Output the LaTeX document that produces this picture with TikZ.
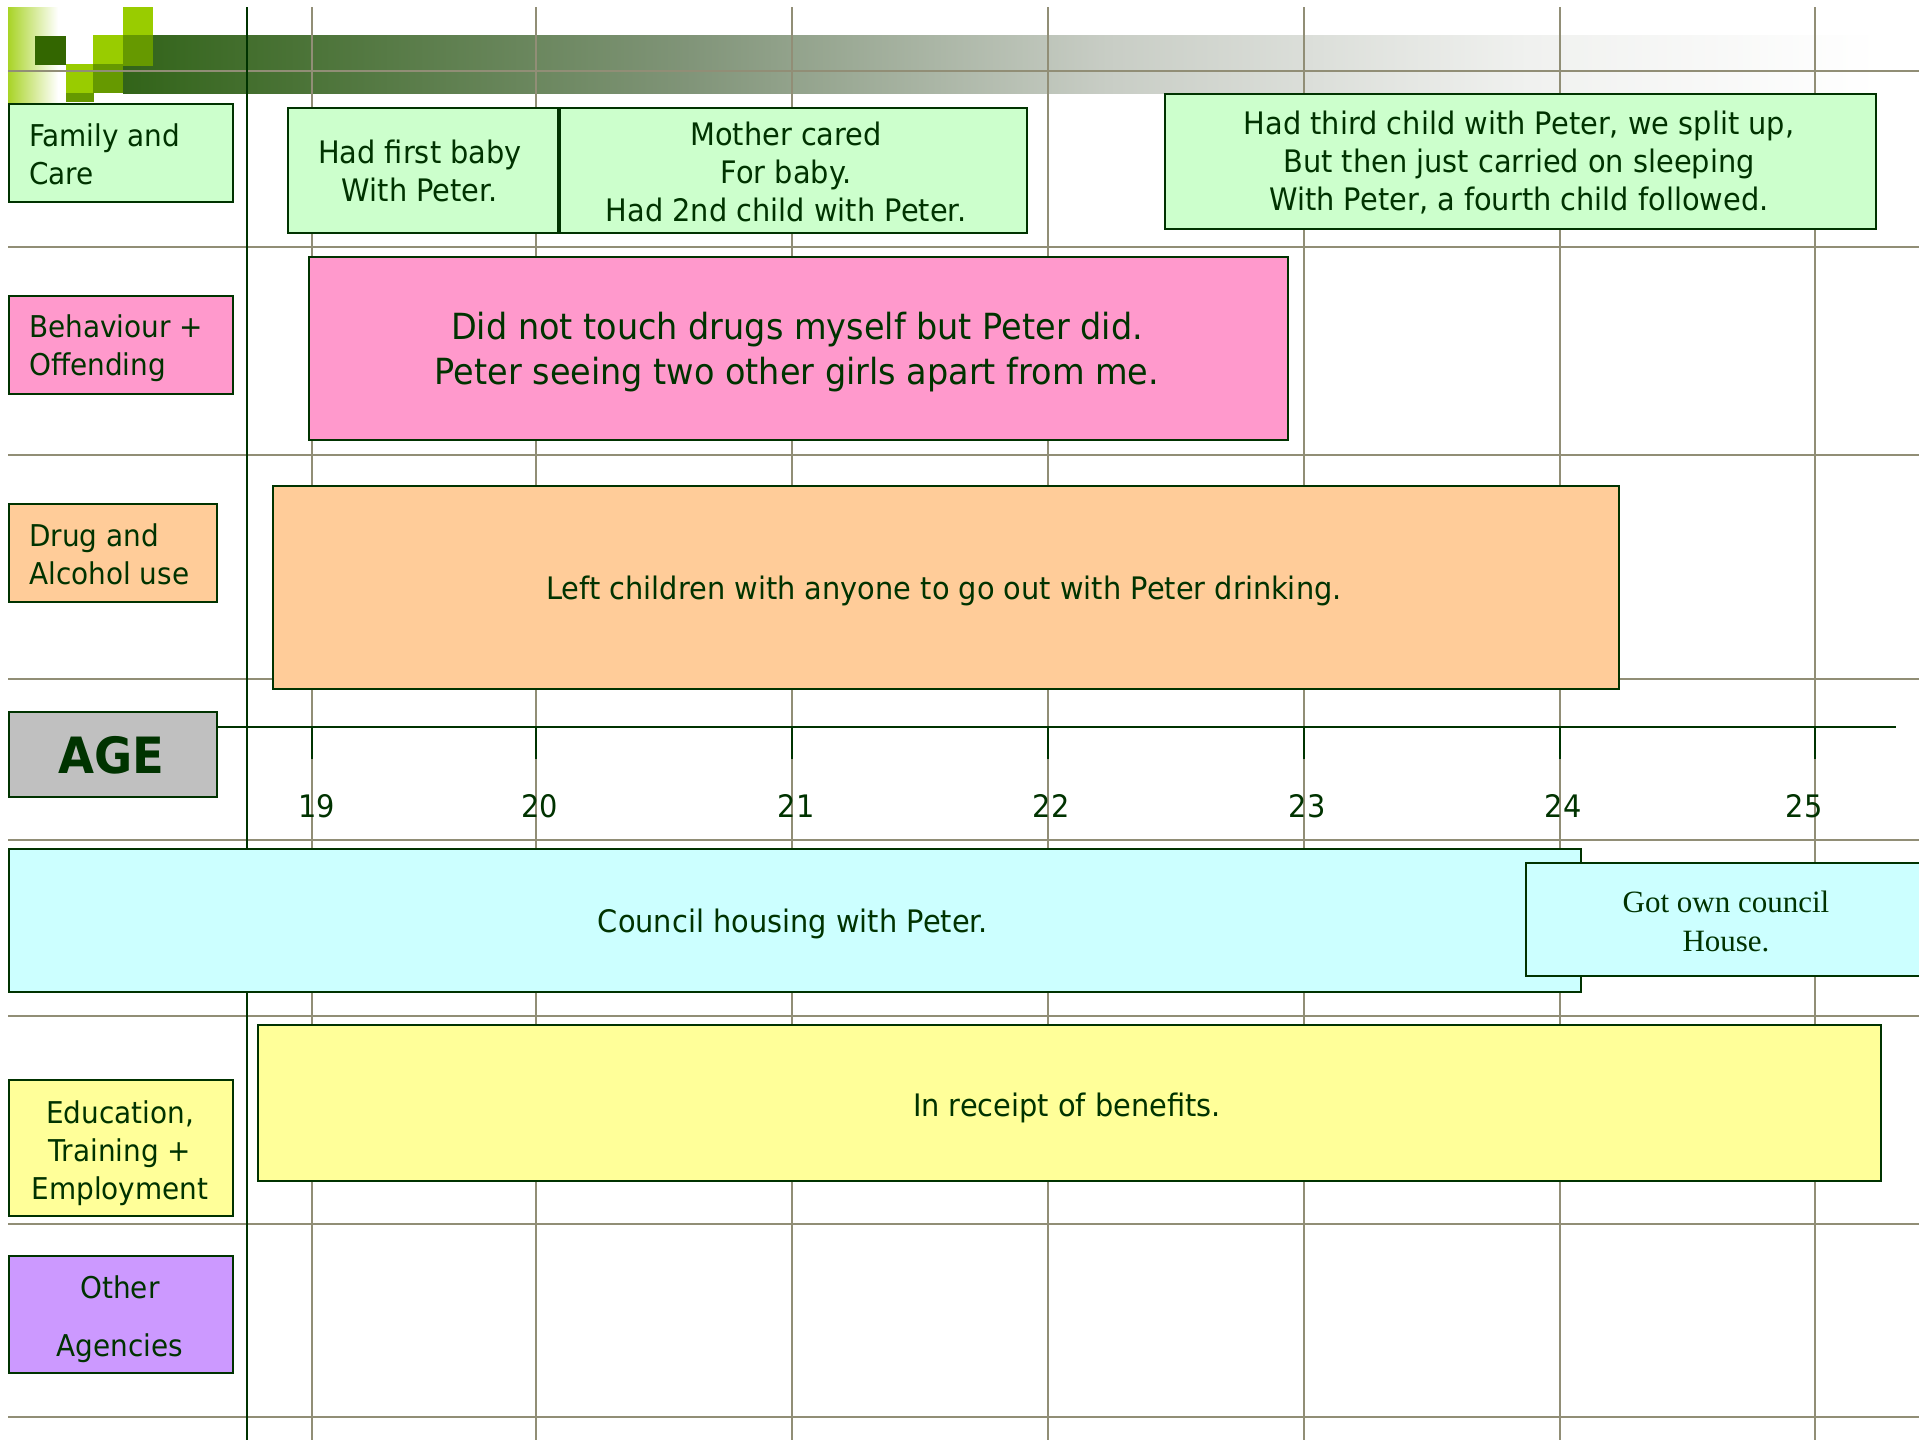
\documentclass[tikz,border=0pt]{standalone}
\usepackage{fontspec}
\setmainfont{DejaVu Sans}[FakeStretch=0.93]
\newfontfamily\serifface{Liberation Serif}
\definecolor{dkgreen}{HTML}{003300}
\definecolor{gridc}{RGB}{145,142,118}
\definecolor{famc}{HTML}{CCFFCC}
\definecolor{behc}{HTML}{FF99CC}
\definecolor{drugc}{HTML}{FFCC99}
\definecolor{agec}{HTML}{C0C0C0}
\definecolor{housec}{HTML}{CCFFFF}
\definecolor{educ}{HTML}{FFFF99}
\definecolor{othc}{HTML}{CC99FF}
\definecolor{limec}{HTML}{99CC00}
\definecolor{midg}{HTML}{669900}
\definecolor{darkg}{HTML}{336600}
\definecolor{banA}{RGB}{50,100,25}
\definecolor{banB}{RGB}{128,148,120}
\definecolor{banC}{RGB}{200,205,197}
\definecolor{banD}{RGB}{240,241,239}
% the visible part of a shading runs from 25bp to 75bp
\pgfdeclarehorizontalshading{bannershade}{100bp}{color(0bp)=(banA); color(25bp)=(banA); color(41bp)=(banB); color(53bp)=(banC); color(65bp)=(banD); color(75bp)=(white); color(100bp)=(white)}
\begin{document}
\begin{tikzpicture}[x=1pt,y=-1pt,
  gridline/.style={draw=gridc, line width=1.7pt},
  spine/.style={draw=dkgreen, line width=2.2pt},
  box/.style={draw=dkgreen, line width=2pt, inner sep=0pt, anchor=north west},
  txt/.style={text=dkgreen, inner sep=0pt, align=center, font=\fontsize{31}{38}\selectfont},
  cattxt/.style={txt, font=\fontsize{30}{38}\selectfont},
  lefttxt/.style={cattxt, align=left, anchor=west},
  ticklbl/.style={text=dkgreen, inner sep=0pt, font=\fontsize{31}{38}\selectfont}]

\useasboundingbox (0,0) rectangle (1919,1440);
\clip (0,0) rectangle (1919,1440);
\fill[white] (0,0) rectangle (1919,1440);

% title banner: fading block, shaded bar and the square motif
\shade[left color=limec!85!white, right color=white] (8,7) rectangle (58,102);
\shade[shading=bannershade] (123,35) rectangle (1880,93);
\fill[darkg] (35,36) rectangle (66,65);
\fill[limec] (123,7) rectangle (153,35);
\fill[limec] (93,35) rectangle (123,64);
\fill[midg] (123,35) rectangle (153,66);
\fill[limec] (66,64) rectangle (93,93);
\fill[midg] (93,64) rectangle (123,93);
\fill[midg] (66,93) rectangle (94,102);

% grid
\foreach \y in {71,247,455,679,840,1016,1224,1417}
  \draw[gridline] (8,\y) -- (1919,\y);
\foreach \x in {312,536,792,1048,1304,1560,1815}
  \draw[gridline] (\x,7) -- (\x,1440);
\coordinate (spineTop) at (247,7);
\coordinate (spineBot) at (247,1440);
\draw[spine] (spineTop) -- (spineBot);

% age axis with ticks and labels
\coordinate (axL) at (216,727);
\coordinate (axR) at (1896,727);
\draw[spine] (axL) -- (axR);
\foreach \x/\lx/\a in {312/317/19,536/540/20,792/796/21,1048/1051/22,1304/1307/23,1560/1563/24,1815/1804/25}{
  \draw[spine] (\x,727) -- (\x,759);
  \node[ticklbl] (tick\a) at (\lx,806) {\a};
}

% category labels
\node[box, fill=famc, minimum width=224pt, minimum height=98pt] (famlab) at (8,103) {};
\node[lefttxt] (famtxt) at (29,154) {Family and\\Care};
\node[box, fill=behc, minimum width=224pt, minimum height=98pt] (behlab) at (8,295) {};
\node[lefttxt] (behtxt) at (29,348) {Behaviour +\\Offending};
\node[box, fill=drugc, minimum width=208pt, minimum height=98pt] (druglab) at (8,503) {};
\node[lefttxt] (drugtxt) at (29,554) {Drug and\\Alcohol use};
\node[box, fill=agec, minimum width=208pt, minimum height=85pt] (agelab) at (8,711) {};
\node[text=dkgreen, inner sep=0pt, font=\fontsize{50}{60}\selectfont\bfseries] (agetxt) at (111,755) {AGE};
\node[box, fill=educ, minimum width=224pt, minimum height=136pt] (edulab) at (8,1079) {};
\node[cattxt] (edutxt) at (120,1153) {Education,\\Training +\\Employment};
\node[box, fill=othc, minimum width=224pt, minimum height=117pt] (othlab) at (8,1255) {};
\node[cattxt] (othtxt) at (120,1319) {Other\\[20pt]Agencies};

% life events
\node[box, fill=famc, minimum width=270pt, minimum height=125pt] (babybox) at (287,107) {};
\node[txt] (babytxt) at (420,171) {Had first baby\\With Peter.};
\node[box, fill=famc, minimum width=467pt, minimum height=125pt] (motherbox) at (559,107) {};
\node[txt] (mothertxt) at (786,172) {Mother cared\\For baby.\\Had 2nd child with Peter.};
\node[box, fill=famc, minimum width=711pt, minimum height=135pt] (thirdbox) at (1164,93) {};
\node[txt] (thirdtxt) at (1519,163) {Had third child with Peter, we split up,\\But then just carried on sleeping\\With Peter, a fourth child followed.};

\node[box, fill=behc, minimum width=979pt, minimum height=183pt] (drugsbox) at (308,256) {};
\node[txt, font=\fontsize{36}{45}\selectfont] (drugstxt) at (797,352) {Did not touch drugs myself but Peter did.\\Peter seeing two other girls apart from me.};

\node[box, fill=drugc, minimum width=1346pt, minimum height=203pt] (drinkbox) at (272,485) {};
\node[txt] (drinktxt) at (944,591) {Left children with anyone to go out with Peter drinking.};

\node[box, fill=housec, minimum width=1572pt, minimum height=143pt] (councilbox) at (8,848) {};
\node[txt] (counciltxt) at (793,924) {Council housing with Peter.};
\node[box, fill=housec, minimum width=420pt, minimum height=113pt] (ownbox) at (1525,862) {};
\node[txt, font=\fontsize{31}{39}\selectfont\serifface] (owntxt) at (1726,921) {Got own council\\House.};

\node[box, fill=educ, minimum width=1623pt, minimum height=156pt] (benefitbox) at (257,1024) {};
\node[txt] (benefittxt) at (1067,1108) {In receipt of benefits.};
\end{tikzpicture}
\end{document}
